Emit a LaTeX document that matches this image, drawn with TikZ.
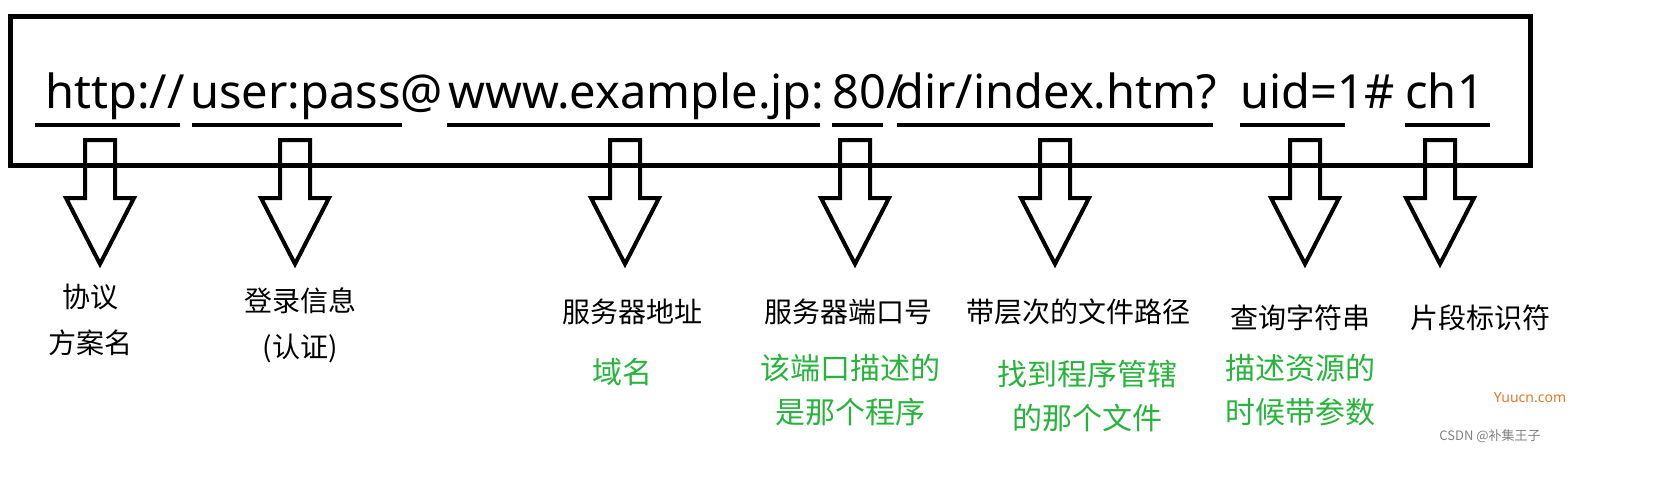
\documentclass[tikz,border=0pt]{standalone}
\usepackage{fontspec}
\setmainfont{Noto Sans}
\newfontfamily\cjk{Noto Sans CJK SC}
\definecolor{grn}{RGB}{40,180,60}
\begin{document}
\begin{tikzpicture}[x=0.5pt,y=-0.5pt,
  url/.style={anchor=base west,inner sep=0pt,font=\fontsize{23.5}{28}\selectfont},
  ul/.style={line width=2pt},
  lab/.style={font=\cjk\fontsize{14}{17}\selectfont,align=center},
  glab/.style={lab,font=\cjk\fontsize{15}{18}\selectfont,text=grn}]
\useasboundingbox (0,0) rectangle (1661,478);
\draw[line width=2.5pt] (10,16) rectangle (1530,165);
\node[url] (u1) at (45,108) {http://};
\node[url] (u2) at (190,108) {user:pass@};
\node[url] (u3) at (448,108) {www.example.jp:};
\node[url] (u4) at (832,108) {80/};
\node[url] (u5) at (895,108) {dir/index.htm?};
\node[url] (u6) at (1240,108) {uid=1\#};
\node[url] (u7) at (1405,108) {ch1};
\foreach \a/\b in {35/180,192/402,447/820,832/883,897/1213,1240/1345,1405/1490}
  \draw[ul] (\a,125) -- (\b,125);
\foreach \c in {100,295,625,855,1055,1305,1440}
  \draw[line width=2pt,line join=miter] (\c-15,140) -- (\c+15,140) -- (\c+15,198) -- (\c+34,198) -- (\c,264) -- (\c-34,198) -- (\c-15,198) -- cycle;
\node[lab] (l1) at (90,320) {协议\\[6pt]方案名};
\node[lab] (l2) at (300,325) {登录信息\\[6pt](认证)};
\node[lab] (l3) at (632,312) {服务器地址};
\node[glab] (g3) at (622,372) {域名};
\node[lab] (l4) at (848,312) {服务器端口号};
\node[glab] (g4) at (850,390) {该端口描述的\\[4pt]是那个程序};
\node[lab] (l5) at (1078,312) {带层次的文件路径};
\node[glab] (g5) at (1087,396) {找到程序管辖\\[4pt]的那个文件};
\node[lab] (l6) at (1300,318) {查询字符串};
\node[glab] (g6) at (1300,390) {描述资源的\\[4pt]时候带参数};
\node[lab] (l7) at (1480,318) {片段标识符};
\node[font=\fontsize{7}{8}\selectfont,text={rgb,255:red,230;green,120;blue,40}] (w1) at (1530,398) {Yuucn.com};
\node[font=\cjk\fontsize{6.5}{8}\selectfont,text=gray] (w2) at (1490,436) {CSDN @补集王子};
\end{tikzpicture}
\end{document}
